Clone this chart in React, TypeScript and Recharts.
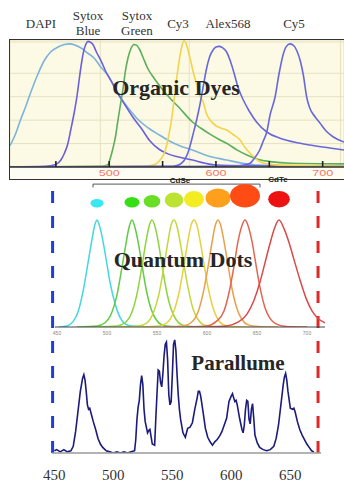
import {
  LineChart,
  Line,
  XAxis,
  YAxis,
  CartesianGrid,
  ReferenceLine,
  ReferenceDot,
} from "recharts";

type Pt = [number, number];

// ---- Organic dyes (wavelength nm, relative intensity) ----
const dapi: Pt[] = [
  [407, 17], [412, 26], [417, 38], [422, 49], [427, 61], [433, 74], [439, 85],
  [445, 92], [452, 96], [458, 98], [463, 98.5], [468, 97.5], [474, 95], [480, 91],
  [486, 87], [492, 80], [499, 73], [505, 64], [511, 55], [519, 46], [527, 38],
  [537, 31], [547, 25.6], [556, 21], [566, 17], [578, 13.6], [592, 9], [610, 5.6],
  [625, 3], [640, 1.5], [680, 1], [720, 0.5],
];
const sytoxBlue: Pt[] = [
  [407, 0], [440, 0.5], [450, 2], [455, 6], [458, 11], [461, 18], [464, 30],
  [467.5, 45], [470, 58], [472, 71], [474, 83], [476, 92.5], [478, 98], [480, 100.5],
  [482, 100], [484.7, 98], [488, 92], [492.5, 84.5], [497, 76], [502, 68.5],
  [508, 59], [514.5, 50], [522, 40], [530, 31], [538, 21], [547, 14], [555, 10.5],
  [565, 8], [578, 5.6], [590, 3], [600, 1.6], [630, 1], [720, 0.5],
];
const sytoxGreen: Pt[] = [
  [407, 0], [490, 0.5], [496, 1], [499, 2], [501, 7], [503.5, 15], [506, 25],
  [508, 36.5], [510.5, 50], [513, 63], [515, 76], [517.5, 87], [520, 94], [523, 98],
  [525.5, 97.5], [528.5, 94], [532, 87], [536, 79], [542, 71], [549, 63], [557, 55],
  [565, 48], [578, 36], [586, 31], [594, 26.5], [603, 22], [610, 19], [620, 13.5],
  [629, 9.6], [640, 6], [651, 4.3], [670, 3], [720, 2.5],
];
const cy3: Pt[] = [
  [407, 0], [530, 0.5], [538, 1], [543, 2], [548, 6], [552, 12], [555, 22], [558, 36],
  [561, 55], [564, 76], [566.5, 90], [568.5, 98], [570, 101], [572, 99], [574, 93],
  [576, 86], [579, 75], [582, 66], [585, 57], [588, 52], [591, 43], [594.5, 37.6],
  [600, 33], [605, 31], [610, 29.6], [616, 26], [622.6, 21.6], [627, 16], [632, 11],
  [637, 7], [641, 4.3], [648, 2.5], [660, 1.5], [690, 1], [720, 0.5],
];
const alexa568: Pt[] = [
  [407, 0], [558, 0.5], [562, 1], [566, 2], [570, 5], [574, 12], [578.8, 27],
  [582, 38], [585, 50], [588, 64], [591, 78], [594, 88], [597.6, 94], [600, 96],
  [603, 96.5], [606, 95.5], [610, 92], [613, 86], [616, 78], [621, 63], [626, 53],
  [631, 45], [638, 36], [647.6, 28], [660, 23], [679, 19], [700, 16], [720, 13.6],
];
const cy5: Pt[] = [
  [407, 0], [615, 0.5], [625.7, 1.5], [632, 3], [636, 7], [641, 13.6], [644, 20],
  [647.6, 28], [650.8, 42], [655.4, 56], [659, 74], [663, 90], [666, 96.5],
  [669.5, 98.5], [673, 97], [675.8, 93], [679, 85], [682, 73], [685, 56], [688, 47],
  [693, 40], [697.6, 35], [703, 29], [710, 24], [720, 20],
];

const dyeNames = ["DAPI", "Sytox Blue", "Sytox Green", "Cy3", "Alex568", "Cy5"];
const dyeSeries = [dapi, sytoxBlue, sytoxGreen, cy3, alexa568, cy5];
const dyeTicks = [450, 500, 550, 600, 650, 700];
const dyeTickLabels = [500, 600, 700];

// ---- Quantum dots ----
const qdCyan: Pt[] = [
  [452, 0], [460, 1], [466, 5], [471, 14], [476, 33], [481, 60], [485, 82], [488, 96],
  [490, 100], [492, 96], [495, 85], [499, 64], [503, 42], [508, 22], [513, 9], [518, 3],
  [525, 1], [545, 0],
];
const qdGreen1: Pt[] = [
  [470, 0], [490, 1], [498, 4], [505, 14], [510, 30], [515, 56], [519, 78], [522, 93],
  [525, 100], [528, 93], [531, 80], [535, 58], [539, 36], [544, 17], [549, 7], [555, 2],
  [565, 0.5], [585, 0],
];
const qdGreen2: Pt[] = [
  [490, 0], [510, 1], [518, 4], [525, 14], [530, 31], [535, 57], [539, 80], [542, 94],
  [545, 100], [548, 94], [551, 81], [555, 58], [559, 36], [564, 17], [569, 7], [575, 2],
  [585, 0.5], [605, 0],
];
const qdYellowGreen: Pt[] = [
  [512, 0], [532, 1], [540, 4], [547, 15], [552, 31], [557, 57], [561, 80], [564, 95],
  [567, 100], [570, 94], [573, 80], [577, 58], [581, 37], [586, 17], [591, 7], [597, 2],
  [607, 0.5], [627, 0],
];
const qdYellow: Pt[] = [
  [532, 0], [552, 1], [560, 4], [567, 15], [572, 32], [577, 58], [581, 81], [584, 95],
  [587, 100], [590, 95], [593, 81], [597, 59], [601, 37], [606, 18], [611, 7], [617, 2],
  [627, 0.5], [647, 0],
];
const qdOrange: Pt[] = [
  [556, 0], [576, 1], [584, 4], [591, 14], [596, 31], [601, 56], [605, 79], [608, 94],
  [611, 100], [614, 94], [617, 80], [621, 58], [625, 36], [630, 17], [635, 7], [641, 2],
  [651, 0.5], [671, 0],
];
const qdRedOrange: Pt[] = [
  [580, 0], [600, 1], [609, 5], [617, 15], [622, 32], [627, 57], [631, 80], [635, 95],
  [638, 100], [641, 95], [645, 80], [649, 58], [653, 37], [658, 18], [663, 8], [669, 3],
  [679, 0.5], [700, 0],
];
const qdRed: Pt[] = [
  [600, 0], [620, 1], [630, 4], [640, 12], [647, 25], [653, 42], [658, 60], [663, 78],
  [667, 91], [672, 100], [677, 92], [682, 79], [687, 63], [693, 44], [699, 27],
  [705, 15], [711, 8], [718, 4],
];
const qdSeries = [
  qdCyan, qdGreen1, qdGreen2, qdYellowGreen, qdYellow, qdOrange, qdRedOrange, qdRed,
];
const qdPeaks = [490, 525, 545, 567, 587, 611, 638, 672];
const qdTicks = [450, 500, 550, 600, 650, 700];
const cdseRange = [486, 653];

// ---- Parallume ----
const parallume: Pt[] = [
  [450, 1], [452, 2], [455, 0], [458, 2], [461, 0], [464, 1], [466, 5], [468, 18],
  [470, 36], [472, 54], [474, 66], [475, 69], [476, 64], [477, 54], [478, 42], [479, 38],
  [480, 39], [481, 35], [483, 27], [485, 20], [487, 12], [489, 7], [491, 4], [494, 1],
  [497, 0], [500, -1], [503, 0], [506, -1], [509, 0], [512, -1], [515, 0], [518, 1],
  [519, 11], [520, 29], [521, 40], [522, 46], [523, 60], [524, 68], [525, 60], [526, 38],
  [527, 27], [529, 17], [530, 19], [531, 20], [533, 7], [535, 6], [536, 30], [537, 52],
  [538, 73], [539, 72], [540, 62], [541, 58], [542, 70], [543, 86], [544, 96], [545, 98],
  [546, 82], [547, 51], [548, 42], [549, 45], [550, 69], [551, 96], [552, 100], [553, 91],
  [554, 69], [555, 51], [556, 38], [557, 29], [559, 17], [561, 13], [563, 21], [565, 22],
  [567, 26], [569, 38], [571, 48], [572, 54], [573, 54], [574, 50], [576, 36], [578, 21],
  [580, 13], [582, 9], [584, 6], [586, 9], [588, 11], [590, 14], [592, 18], [594, 24],
  [596, 30], [598, 45], [600, 50], [601, 52], [602, 48], [603, 45], [604, 46], [605, 42],
  [607, 30], [609, 20], [610, 17], [611, 24], [612, 38], [613, 46], [614, 45], [615, 29],
  [616, 25], [617, 38], [618, 43], [619, 30], [620, 15], [622, 8], [624, 4], [627, 2],
  [630, 1], [633, 2], [636, 5], [638, 12], [640, 24], [642, 42], [644, 60], [645, 67],
  [646, 70], [647, 64], [648, 54], [650, 39], [652, 38], [653, 39], [654, 36], [656, 27],
  [658, 20], [660, 15], [662, 11], [664, 7], [666, 4], [668, 1], [670, 0],
];
const parallumeTicks = [450, 500, 550, 600, 650];
const parallumeRange = [448.5, 673.5];

const toRows = (pts: Pt[]) => pts.map(([x, y]) => ({ x, y }));

// styles
const SERIF = '"Liberation Serif", "Times New Roman", serif';
const SANS = '"Liberation Sans", Arial, sans-serif';
const dyeColors = ["#7db3dc", "#6c5fdc", "#5cad5c", "#f3d34c", "#6868dc", "#6868dc"];
const qdColors = ["#44d8de", "#62cc44", "#8fd43c", "#c2d83a", "#e8d040", "#eaa04a", "#e26650", "#da4a4a"];
const dotColors = ["#38e8f0", "#36de16", "#6ade26", "#bce232", "#f4ec22", "#ffa01c", "#ff4c14", "#ec1212"];
const dotSizes = [
  [6.5, 4.2], [7.5, 5.3], [8.3, 6.3], [9.3, 7.5], [10, 8.3], [12.5, 9.5], [15, 11.7], [10.8, 8.3],
];
const dyeLabelPos = [
  [41, 23], [88, 22.5], [137, 22.5], [178, 23], [228, 23], [294, 23],
];

const gridStep = 50 / 6;
const gridX: number[] = [];
for (let v = 450 - 5 * gridStep; v < 721; v += gridStep) gridX.push(v);
const gridY: number[] = [];
for (let v = 0; v < 102; v += 6.25) gridY.push(v);

function DyeTick(props: any) {
  const { x, y, payload } = props;
  const show = dyeTickLabels.includes(payload.value);
  return (
    <g>
      <line x1={x} x2={x} y1={y - 6} y2={y} stroke="#222" strokeWidth={1.6} />
      {show && (
        <text
          x={x}
          y={y + 9}
          textAnchor="middle"
          fontSize={9}
          fontFamily={SANS}
          fill="#f07a6a"
          textLength={21}
          lengthAdjust="spacingAndGlyphs"
        >
          {payload.value}
        </text>
      )}
    </g>
  );
}

function QdTick(props: any) {
  const { x, y, payload } = props;
  return (
    <text x={x} y={y + 8} textAnchor="middle" fontSize={5} fontFamily={SANS} fill="#888">
      {payload.value}
    </text>
  );
}

function ParTick(props: any) {
  const { x, y, payload } = props;
  return (
    <text x={x} y={y + 27} textAnchor="middle" fontSize={15} fontFamily={SERIF} fill="#333">
      {payload.value}
    </text>
  );
}

const centered = (cx: number, cy: number): React.CSSProperties => ({
  position: "absolute",
  left: cx,
  top: cy,
  transform: "translate(-50%, -50%)",
  whiteSpace: "nowrap",
  textAlign: "center",
});

export default function App() {
  return (
    <div
      style={{
        position: "absolute",
        left: 0,
        top: 0,
        width: 344,
        height: 483,
        background: "#fff",
        overflow: "hidden",
      }}
    >
      {/* Parallume */}
      <div style={{ position: "absolute", left: 0, top: 170 }}>
        <LineChart width={344} height={313} margin={{ top: 8, right: 23, bottom: 0, left: 52 }}>
          <XAxis
            type="number"
            dataKey="x"
            domain={[448, 676]}
            allowDataOverflow
            ticks={parallumeTicks}
            interval={0}
            height={30}
            tickSize={0}
            tickMargin={0}
            tickLine={false}
            tick={ParTick}
            axisLine={{ stroke: "#9a9a9a", strokeWidth: 1.5 }}
          />
          <YAxis type="number" domain={[-1, 244.5]} allowDataOverflow hide />
          <ReferenceLine
            x={parallumeRange[0]}
            stroke="#1d3fd8"
            strokeWidth={3}
            strokeDasharray="12 13"
          />
          <ReferenceLine
            x={parallumeRange[1]}
            stroke="#e02828"
            strokeWidth={3}
            strokeDasharray="12 13"
          />
          <Line
            data={toRows(parallume)}
            dataKey="y"
            type="linear"
            stroke="#1b1b7c"
            strokeWidth={1.6}
            dot={false}
            isAnimationActive={false}
          />
        </LineChart>
      </div>

      {/* Quantum dots */}
      <div style={{ position: "absolute", left: 0, top: 170 }}>
        <LineChart width={344} height={177} margin={{ top: 8, right: 19, bottom: 0, left: 55 }}>
          <XAxis
            type="number"
            dataKey="x"
            domain={[448, 718]}
            allowDataOverflow
            ticks={qdTicks}
            interval={0}
            height={20}
            tickSize={0}
            tickMargin={0}
            tickLine={false}
            tick={QdTick}
            axisLine={{ stroke: "#444", strokeWidth: 1 }}
          />
          <YAxis type="number" domain={[0, 139.3]} allowDataOverflow hide />
          <ReferenceLine
            segment={[{ x: cdseRange[0], y: 133.6 }, { x: cdseRange[1], y: 133.6 }]}
            stroke="#555"
          />
          <ReferenceLine
            segment={[{ x: cdseRange[0], y: 133.6 }, { x: cdseRange[0], y: 130.5 }]}
            stroke="#555"
          />
          <ReferenceLine
            segment={[{ x: cdseRange[1], y: 133.6 }, { x: cdseRange[1], y: 130.5 }]}
            stroke="#555"
          />
          {qdSeries.map((s, i) => (
            <Line
              key={i}
              data={toRows(s)}
              dataKey="y"
              type="monotone"
              stroke={qdColors[i]}
              strokeWidth={1.5}
              dot={false}
              isAnimationActive={false}
            />
          ))}
          {qdPeaks.map((p, i) => (
            <ReferenceDot
              key={"d" + i}
              x={p}
              y={111.7}
              r={dotSizes[i][0]}
              shape={(sp: any) => (
                <ellipse
                  cx={sp.cx}
                  cy={sp.cy - dotSizes[i][1]}
                  rx={dotSizes[i][0]}
                  ry={dotSizes[i][1]}
                  fill={dotColors[i]}
                />
              )}
            />
          ))}
        </LineChart>
      </div>

      {/* Organic dyes box */}
      <div
        style={{
          position: "absolute",
          left: 8.5,
          top: 38.5,
          width: 345,
          height: 141,
          boxSizing: "border-box",
          border: "1.5px solid #333",
          background: "#fefdf3",
        }}
      >
        <div style={{ position: "absolute", left: 0, top: 0 }}>
          <LineChart width={334} height={138} margin={{ top: 0, right: 0, bottom: 0, left: 0 }}>
            <CartesianGrid xAxisId="grid" stroke="#e6e1c2" fill="#fcfae4" />
            <XAxis
              xAxisId="grid"
              type="number"
              dataKey="x"
              domain={[407, 720]}
              allowDataOverflow
              ticks={gridX}
              hide
            />
            <XAxis
              type="number"
              dataKey="x"
              domain={[407, 720]}
              allowDataOverflow
              ticks={dyeTicks}
              interval={0}
              height={11}
              tickSize={0}
              tickMargin={0}
              tickLine={false}
              tick={DyeTick}
              axisLine={{ stroke: "#333", strokeWidth: 1.6 }}
            />
            <YAxis type="number" domain={[0, 101.6]} allowDataOverflow ticks={gridY} hide />
            {dyeSeries.map((s, i) => (
              <Line
                key={i}
                data={toRows(s)}
                dataKey="y"
                name={dyeNames[i]}
                type="monotone"
                stroke={dyeColors[i]}
                strokeWidth={1.6}
                dot={false}
                isAnimationActive={false}
              />
            ))}
          </LineChart>
        </div>
      </div>

      {/* dye names */}
      {dyeNames.map((n, i) => (
        <div
          key={n}
          style={{
            ...centered(dyeLabelPos[i][0], dyeLabelPos[i][1]),
            fontFamily: SERIF,
            fontSize: 13,
            lineHeight: "15px",
            color: "#333",
          }}
        >
          {n.split(" ").map((w, j) => (
            <div key={j}>{w}</div>
          ))}
        </div>
      ))}

      <div style={{ ...centered(176, 88), fontFamily: SERIF, fontWeight: "bold", fontSize: 22, color: "#262626", lineHeight: 1 }}>
        Organic Dyes
      </div>
      <div style={{ ...centered(183, 260), fontFamily: SERIF, fontWeight: "bold", fontSize: 22, color: "#262626", lineHeight: 1 }}>
        Quantum Dots
      </div>
      <div style={{ ...centered(238, 363), fontFamily: SERIF, fontWeight: "bold", fontSize: 21, color: "#262626", lineHeight: 1 }}>
        Parallume
      </div>
      <div style={{ ...centered(180, 180.5), fontFamily: SANS, fontWeight: "bold", fontSize: 8, color: "#222", lineHeight: 1 }}>
        CdSe
      </div>
      <div style={{ ...centered(278, 180), fontFamily: SANS, fontWeight: "bold", fontSize: 8, color: "#222", lineHeight: 1 }}>
        CdTe
      </div>
    </div>
  );
}
